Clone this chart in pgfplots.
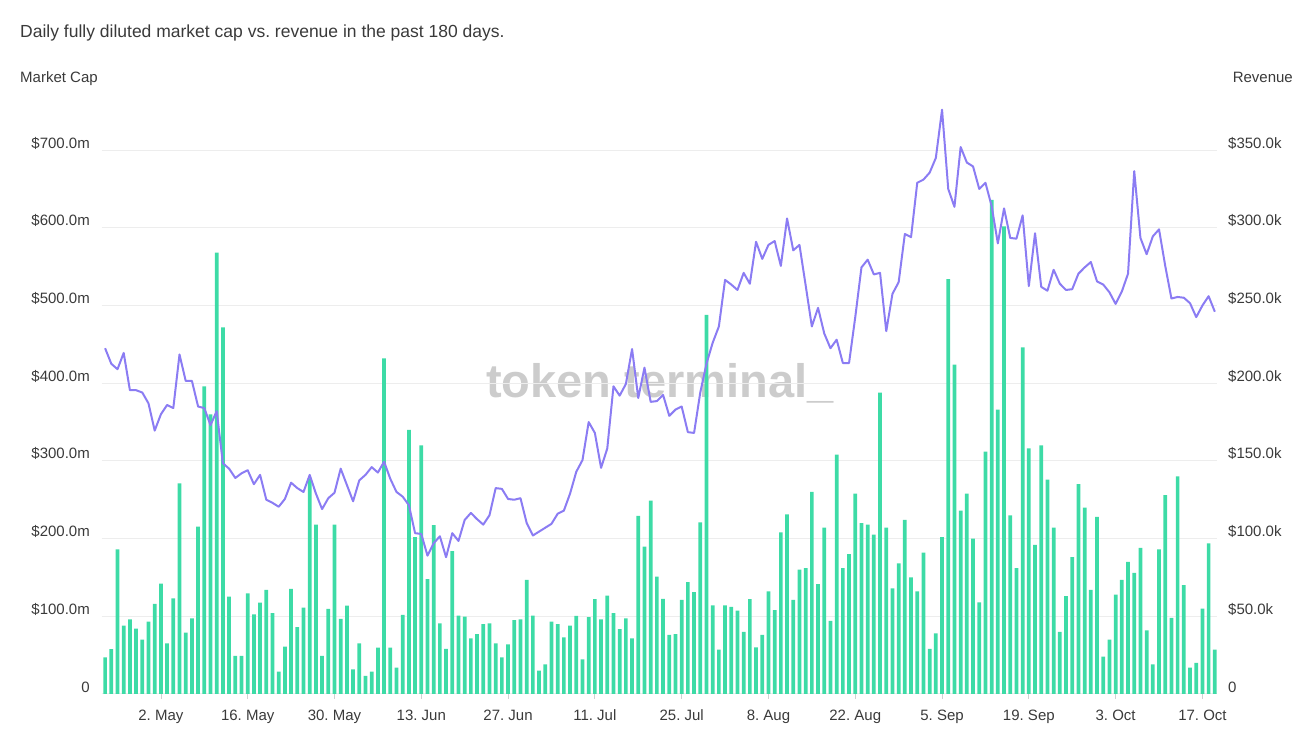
\documentclass[border=0pt]{standalone}
\usepackage{pgfplots}
\usepackage{pgfplotstable}
\pgfplotsset{compat=1.18}
\usepackage{fontspec}
\setmainfont{Liberation Sans}
\frenchspacing
\definecolor{barc}{HTML}{3DDBA6}
\definecolor{linec}{HTML}{8B7CF3}
\definecolor{gridc}{HTML}{EDEDED}
\definecolor{tickc}{HTML}{D0D0D0}
\definecolor{txt}{HTML}{3A3A3A}
\definecolor{wm}{HTML}{CCCCCC}

\pgfplotstableread{
i rev mcap
0 23.6 445
1 28.8 425
2 93 418
3 44 439
4 48 391
5 42 391
6 35 388
7 46.6 374
8 58 339
9 71 360
10 32.6 372
11 61.6 368
12 135.6 437
13 39.5 403
14 48.7 403
15 107.7 370
16 198 368
17 180 346
18 284 364
19 236 297
20 62.7 290
21 24.5 278
22 24.5 284
23 64.8 288
24 51.3 270
25 58.8 282
26 67 250
27 52 246
28 14.4 241
29 30.5 251
30 67.6 272
31 43 265
32 55.6 260
33 138.8 282
34 109 258
35 24.5 238
36 54.7 252
37 109 259
38 48.3 290
39 56.9 269
40 15.9 248
41 32.6 275
42 11.6 282
43 14.4 292
44 29.8 285
45 216 299
46 29.8 277
47 17 260
48 50.9 254
49 170 243
50 101 207
51 160 206
52 74 178
53 108.6 194
54 45.5 203
55 29 176
56 92 207
57 50.4 197
58 49.8 224
59 35.8 233
60 38.6 225
61 45 218
62 45.5 230
63 32.6 265
64 23.6 264
65 32 251
66 47.6 250
67 48 252
68 73.4 220
69 50.4 204
70 15 209
71 19 214
72 46.6 219
73 45 232
74 36.5 236
75 44 258
76 50.2 286
77 22.3 301
78 49.4 350
79 61 336
80 48 291
81 63.3 316
82 52 396
83 41.8 384
84 48.7 399
85 35.8 444
86 114.6 381
87 94.8 420
88 124.5 376
89 75.5 377
90 61.2 385
91 38 358
92 38.6 366
93 60.5 370
94 72 337
95 65.6 336
96 110.5 388
97 244 425
98 57 452
99 28.6 473
100 57 533
101 56 527
102 53.6 520
103 40 542
104 61 528
105 30 582
106 38 560
107 66 578
108 54 583
109 104 551
110 115.6 612
111 60.5 571
112 80 578
113 81 526
114 130 473
115 70.7 497
116 107 464
117 47 445
118 154 456
119 81 426
120 90 426
121 129 485
122 110 549
123 109 559
124 102.6 540
125 194 542
126 107 467
127 68 515
128 84 530
129 112 592
130 75 588
131 66 658
132 91 662
133 29 671
134 39 690
135 101 752
136 267 650
137 212 627
138 118 704
139 129 684
140 100 679
141 59 650
142 156 658
143 318 628
144 183 580
145 301 625
146 115 587
147 81 586
148 223 616
149 158 525
150 96 593
151 160 524
152 138 519
153 107 546
154 40 528
155 63 520
156 88 521
157 135 541
158 120 549
159 67 556
160 114 531
161 24 527
162 35 517
163 64 502
164 73.5 518
165 85 541
166 78 673
167 94 587
168 41 566
169 19 589
170 93 598
171 128 551
172 49 509
173 140 511
174 70 510
175 17 503
176 20 485
177 55 500
178 97 512
179 28.6 492
}\datatable

\begin{document}
\begin{tikzpicture}[x=1pt,y=1pt]
\path[use as bounding box] (0,0) rectangle (1306,735);
\node[anchor=base west, inner sep=0pt, text=txt, font=\fontsize{17.5}{20}\selectfont] at (20,697) {Daily fully diluted market cap vs.\ revenue in the past 180 days.};
\node[anchor=base west, inner sep=0pt, text=txt, font=\fontsize{15}{18}\selectfont] at (20,652) {Market Cap};
\node[anchor=base east, inner sep=0pt, text=txt, font=\fontsize{15}{18}\selectfont] at (1293,652) {Revenue};
\node[inner sep=0pt, text=wm, font=\fontsize{47}{50}\selectfont\bfseries] at (660,352) {token terminal\_};

\begin{axis}[
  at={(101.7pt,41pt)}, anchor=south west,
  scale only axis, width=1115.3pt, height=590.5pt,
  xmin=-0.55, xmax=179.35, ymin=0, ymax=380,
  axis line style={draw=none},
  ytick={0,50,100,150,200,250,300,350},
  yticklabels={0,\$50.0k,\$100.0k,\$150.0k,\$200.0k,\$250.0k,\$300.0k,\$350.0k},
  yticklabel pos=right,
  ymajorgrids, grid style={gridc, line width=1pt},
  ytick style={draw=none},
  yticklabel style={anchor=west, inner sep=0pt, xshift=6pt, yshift=7pt},
  xtick={9,23,37,51,65,79,93,107,121,135,149,163,177},
  xticklabels={2. May,16. May,30. May,13. Jun,27. Jun,11. Jul,25. Jul,8. Aug,22. Aug,5. Sep,19. Sep,3. Oct,17. Oct},
  xtick pos=bottom,
  tick align=outside, major tick length=5pt,
  xtick style={tickc, line width=0.8pt},
  xticklabel style={anchor=north, inner sep=0pt, text height=11pt, yshift=-10pt},
  ticklabel style={font=\fontsize{15}{18}\selectfont, text=txt},
]
\addplot[ybar, bar width=0.6, fill=barc, draw=none] table[x=i, y=rev] {\datatable};
\end{axis}

\begin{axis}[
  at={(101.7pt,41pt)}, anchor=south west,
  scale only axis, width=1115.3pt, height=590.5pt,
  xmin=-0.55, xmax=179.35, ymin=0, ymax=760,
  axis line style={draw=none},
  clip=false,
  xtick=\empty,
  ytick={0,100,200,300,400,500,600,700},
  yticklabels={0,\$100.0m,\$200.0m,\$300.0m,\$400.0m,\$500.0m,\$600.0m,\$700.0m},
  ytick style={draw=none},
  yticklabel style={anchor=east, inner sep=0pt, xshift=-11.7pt, yshift=7pt},
  ticklabel style={font=\fontsize{15}{18}\selectfont, text=txt},
]
\addplot[linec, line width=2pt, line join=round, mark=none] table[x=i, y=mcap] {\datatable};
\end{axis}
\end{tikzpicture}
\end{document}
